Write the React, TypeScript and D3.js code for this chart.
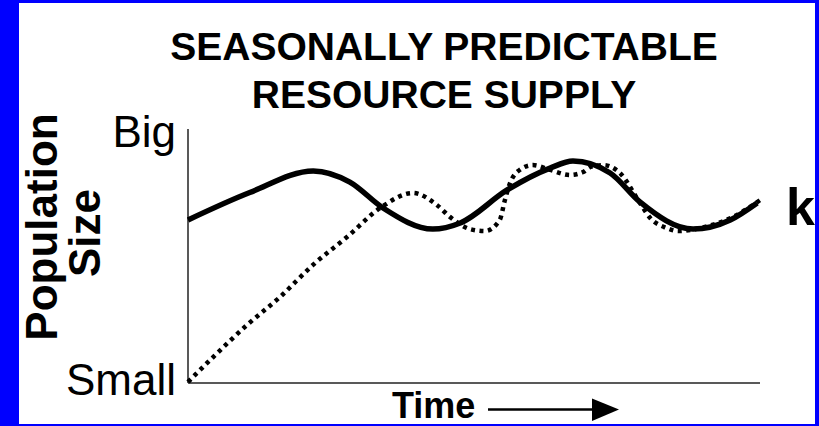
import { useEffect, useRef } from 'react'
import * as d3 from 'd3'

// chart values (time 0..10, population 0..10)
const titleLines = ['SEASONALLY PREDICTABLE', 'RESOURCE SUPPLY']
const yTickLabels = ['Small', 'Big']
const yLabelLines = ['Population', 'Size']
const carryingCapacity = [
    { t: 0, v: 6.42 },
    { t: 1.08, v: 7.5 },
    { t: 2.19, v: 8.35 },
    { t: 2.83, v: 7.91 },
    { t: 3.41, v: 6.89 },
    { t: 4.28, v: 6.06 },
    { t: 4.76, v: 6.3 },
    { t: 5.58, v: 7.6 },
    { t: 6.33, v: 8.46 },
    { t: 6.73, v: 8.74 },
    { t: 7.38, v: 8.27 },
    { t: 7.9, v: 7.13 },
    { t: 8.83, v: 6.06 },
    { t: 9.48, v: 6.42 },
    { t: 9.95, v: 7.09 },
]
const population = [
    { t: 0, v: 0.04 },
    { t: 0.44, v: 1.02 },
    { t: 1.03, v: 2.28 },
    { t: 1.61, v: 3.39 },
    { t: 2.19, v: 4.66 },
    { t: 2.78, v: 5.75 },
    { t: 3.36, v: 6.89 },
    { t: 3.93, v: 7.48 },
    { t: 4.35, v: 7.01 },
    { t: 4.58, v: 6.54 },
    { t: 4.93, v: 6.06 },
    { t: 5.19, v: 5.98 },
    { t: 5.45, v: 6.42 },
    { t: 5.54, v: 7.2 },
    { t: 5.63, v: 7.87 },
    { t: 5.8, v: 8.39 },
    { t: 6.03, v: 8.58 },
    { t: 6.33, v: 8.39 },
    { t: 6.68, v: 8.19 },
    { t: 6.91, v: 8.31 },
    { t: 7.03, v: 8.5 },
    { t: 7.26, v: 8.58 },
    { t: 7.55, v: 8.27 },
    { t: 7.9, v: 7.09 },
    { t: 8.08, v: 6.5 },
    { t: 8.37, v: 6.1 },
    { t: 8.57, v: 5.98 },
    { t: 8.95, v: 6.1 },
    { t: 9.53, v: 6.54 },
    { t: 10, v: 7.2 },
]

const W = 819
const H = 426
const FONT = '"Liberation Sans", Arial, sans-serif'

const App = () => {
    const svgRef = useRef<SVGSVGElement>(null)

    useEffect(() => {
        if (!svgRef.current) return
        const svg = d3.select(svgRef.current)
        svg.selectAll('*').remove()

        // blue frame round a white card
        svg.append('rect').attr('width', W).attr('height', H).attr('fill', '#0000ff')
        svg.append('rect')
            .attr('x', 19)
            .attr('y', 3)
            .attr('width', 815 - 19)
            .attr('height', 424 - 3)
            .attr('fill', '#fff')

        const x = d3.scaleLinear().domain([0, 10]).range([188, 760])
        const y = d3.scaleLinear().domain([0, 10]).range([383, 129])

        // title
        svg.append('text')
            .attr('text-anchor', 'middle')
            .attr('font-family', FONT)
            .attr('font-weight', 'bold')
            .attr('font-size', 39)
            .selectAll('tspan')
            .data(titleLines)
            .join('tspan')
            .attr('x', 444)
            .attr('y', (_, i) => 60 + i * 48)
            .text(d => d)

        // axes
        const g = svg.append('g').attr('stroke', '#222').attr('stroke-width', 1.5)
        g.append('line')
            .attr('x1', x(0)).attr('x2', x(0))
            .attr('y1', y(10)).attr('y2', y(0))
        g.append('line')
            .attr('x1', x(0)).attr('x2', x(10))
            .attr('y1', y(0)).attr('y2', y(0))

        // Small / Big
        svg.selectAll('text.tick')
            .data(yTickLabels)
            .join('text')
            .attr('class', 'tick')
            .attr('x', 176)
            .attr('y', (_, i) => (i === 0 ? 395 : 147))
            .attr('text-anchor', 'end')
            .attr('font-family', FONT)
            .attr('font-size', 44)
            .text(d => d)

        // y label, two rotated lines
        yLabelLines.forEach((line, i) => {
            const cx = i === 0 ? 57 : 100
            const cy = i === 0 ? 227 : 233
            svg.append('text')
                .attr('transform', `translate(${cx},${cy}) rotate(-90)`)
                .attr('text-anchor', 'middle')
                .attr('font-family', FONT)
                .attr('font-weight', 'bold')
                .attr('font-size', 44)
                .text(line)
        })

        // Time ---->
        svg.append('text')
            .attr('x', 392)
            .attr('y', 418)
            .attr('font-family', FONT)
            .attr('font-weight', 'bold')
            .attr('font-size', 36)
            .text('Time')
        svg.append('line')
            .attr('x1', 488).attr('x2', 596)
            .attr('y1', 409.5).attr('y2', 409.5)
            .attr('stroke', '#000')
            .attr('stroke-width', 2.5)
        svg.append('path')
            .attr('d', 'M592,398.5L619,409.5L592,421Z')
            .attr('fill', '#000')

        const line = d3
            .line<{ t: number; v: number }>()
            .x(d => x(d.t))
            .y(d => y(d.v))
            .curve(d3.curveMonotoneX)

        svg.append('path')
            .datum(carryingCapacity)
            .attr('fill', 'none')
            .attr('stroke', '#000')
            .attr('stroke-width', 5.5)
            .attr('d', line)

        svg.append('path')
            .datum(population)
            .attr('fill', 'none')
            .attr('stroke', '#000')
            .attr('stroke-width', 4.5)
            .attr('stroke-dasharray', '4 4.5')
            .attr('d', line)

        // K label
        svg.append('text')
            .attr('x', 786)
            .attr('y', 225)
            .attr('font-family', FONT)
            .attr('font-weight', 'bold')
            .attr('font-size', 52)
            .text('k')

        // blue right edge drawn again on top so the k is clipped like the original
        svg.append('rect').attr('x', 815).attr('y', 0).attr('width', 4).attr('height', H).attr('fill', '#0000ff')
    }, [])

    return (
        <div style={{ position: 'absolute', left: 0, top: 0 }}>
            <svg ref={svgRef} width={W} height={H} style={{ display: 'block' }}></svg>
        </div>
    )
}

export default App
